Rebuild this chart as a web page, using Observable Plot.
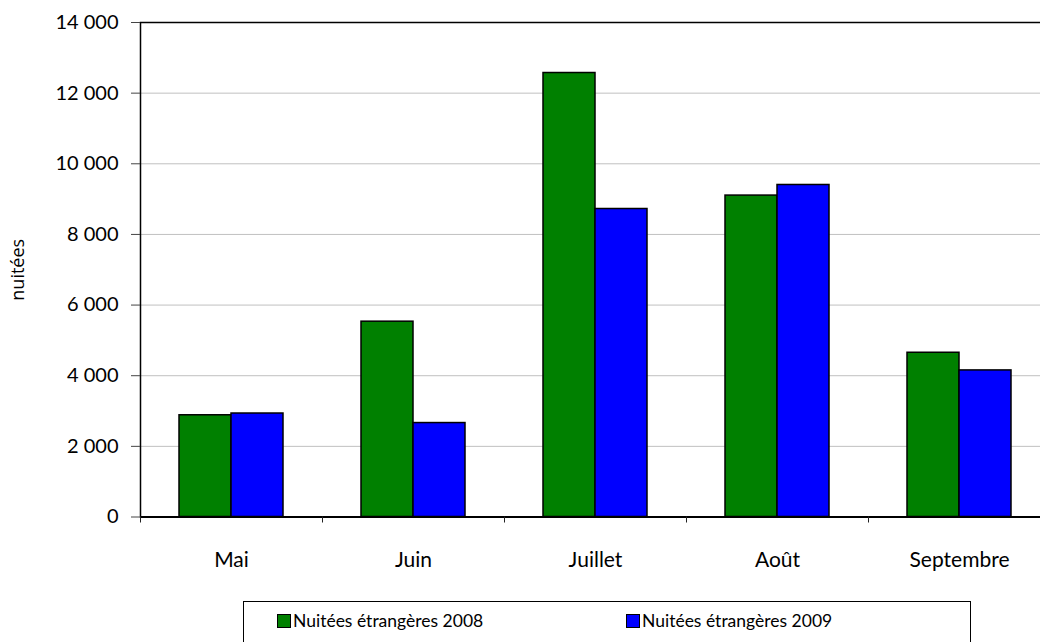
<!DOCTYPE html>
<html>
<head>
<meta charset="utf-8">
<script src="https://cdn.jsdelivr.net/npm/d3@7"></script>
<script src="https://cdn.jsdelivr.net/npm/@observablehq/plot@0.6"></script>
<style>
  html, body { margin: 0; padding: 0; background: #fff; overflow: hidden; width: 1040px; height: 642px; }
  #wrap { position: relative; width: 1040px; height: 642px; overflow: hidden; }
  #chart { position: absolute; left: 0; top: 0; width: 1050px; }
  #chart svg { max-width: none !important; }
  #legend { position: absolute; left: 243px; top: 601px; width: 726px; height: 50px; border: 1px solid #000; background: #fff;
            font-family: Lato, "Open Sans", sans-serif; font-size: 17.5px; color: #000; }
  .item { position: absolute; top: 8px; display: flex; align-items: center; white-space: nowrap; }
  .sw { width: 12px; height: 12px; border: 1px solid #000; margin-right: 2px; }
</style>
</head>
<body>
<div id="wrap">
  <div id="chart"></div>
  <div id="legend"></div>
</div>
<script>
const months = ["Mai", "Juin", "Juillet", "Août", "Septembre"];
const series = ["Nuitées étrangères 2008", "Nuitées étrangères 2009"];
const values2008 = [2880, 5530, 12570, 9100, 4650];
const values2009 = [2930, 2660, 8720, 9400, 4150];
const colors = ["#008000", "#0000ff"];
const yTicks = [0, 2000, 4000, 6000, 8000, 10000, 12000, 14000];
const yLabel = "nuitées";

const fmt = d => d3.format(",")(d).replace(/,/g, " ");
const rows2008 = months.map((m, i) => ({month: m, value: values2008[i]}));
const rows2009 = months.map((m, i) => ({month: m, value: values2009[i]}));

const chart = Plot.plot({
  width: 1050,
  height: 590,
  marginLeft: 140,
  marginRight: 0,
  marginTop: 22,
  marginBottom: 73.5,
  style: {fontFamily: "Lato, 'Open Sans', sans-serif", fontSize: "20px", color: "#000", background: "transparent", maxWidth: "none"},
  x: {type: "band", domain: months, padding: 0},
  y: {domain: [0, 14000]},
  marks: [
    Plot.gridY(yTicks, {stroke: "#c0c0c0", strokeOpacity: 1, strokeWidth: 1}),
    Plot.barY(rows2008, {x: "month", y: "value", fill: colors[0], stroke: "#000", strokeWidth: 1.5, insetLeft: 39, insetRight: 91}),
    Plot.barY(rows2009, {x: "month", y: "value", fill: colors[1], stroke: "#000", strokeWidth: 1.5, insetLeft: 91, insetRight: 39}),
    Plot.frame({stroke: "#000", strokeWidth: 1.5}),
    Plot.ruleY([0], {stroke: "#000", strokeWidth: 2}),
    Plot.axisY(yTicks, {tickFormat: fmt, tickSize: 9, tickPadding: 13, label: null, fontSize: 20, stroke: "#444"}),
    Plot.axisX({tickSize: 6, tickFormat: () => "", dx: -91, label: null, stroke: "#222"}),
    Plot.axisX({tickSize: 0, tickPadding: 35, label: null, fontSize: 21}),
    Plot.text([yLabel], {frameAnchor: "left", rotate: -90, dx: -122, textAnchor: "middle", text: d => d, fontSize: 18, fontFamily: "'Open Sans', sans-serif"})
  ]
});
document.getElementById("chart").appendChild(chart);

const legend = document.getElementById("legend");
const lefts = [33, 382];
series.forEach((s, i) => {
  const it = document.createElement("div");
  it.className = "item";
  it.style.left = lefts[i] + "px";
  const sw = document.createElement("div");
  sw.className = "sw";
  sw.style.background = colors[i];
  const t = document.createElement("span");
  t.textContent = s;
  it.appendChild(sw);
  it.appendChild(t);
  legend.appendChild(it);
});
</script>
</body>
</html>
